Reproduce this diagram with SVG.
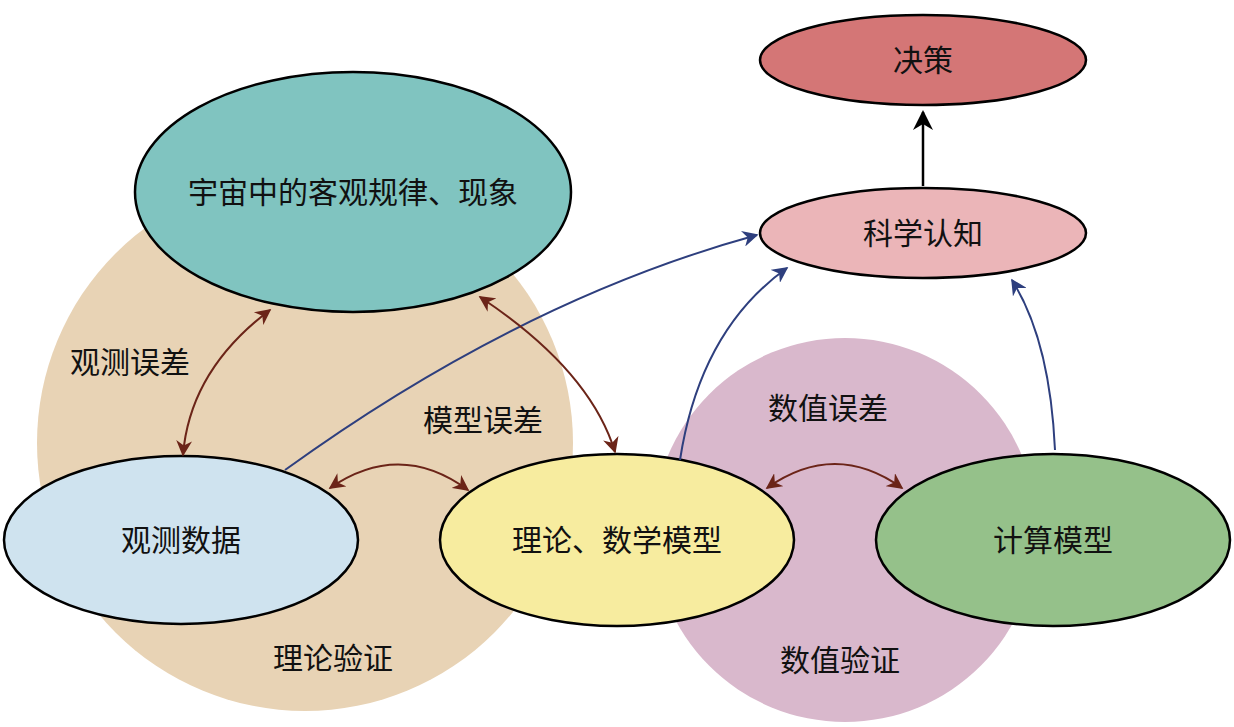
<svg xmlns="http://www.w3.org/2000/svg" width="1234" height="727" viewBox="0 0 1234 727">
<style>
text{font-family:"Liberation Serif","Noto Sans CJK SC",serif;font-size:30px;fill:#111;text-anchor:middle;dominant-baseline:central}
.n{stroke:#000;stroke-width:2.5}
.b{fill:none;stroke:#2e3f7e;stroke-width:2}
.r{fill:none;stroke:#6b2418;stroke-width:2}
</style>
<defs>
<marker id="ab" viewBox="0 0 10 10" refX="9" refY="5" markerWidth="8" markerHeight="8" orient="auto-start-reverse"><path d="M0,0 L10,5 L0,10 L3,5z" fill="#2e3f7e"/></marker>
<marker id="ar" viewBox="0 0 10 10" refX="9" refY="5" markerWidth="8" markerHeight="8" orient="auto-start-reverse"><path d="M0,0 L10,5 L0,10 L3,5z" fill="#6b2418"/></marker>
<marker id="ak" viewBox="0 0 10 10" refX="9" refY="5" markerWidth="8" markerHeight="8" orient="auto"><path d="M0,0 L10,5 L0,10 L3,5z" fill="#000"/></marker>
</defs>
<circle cx="305" cy="443" r="268" fill="#e8d3b5"/>
<circle cx="845" cy="530" r="192" fill="#d9b8cc"/>
<text x="130" y="362">观测误差</text>
<text x="483" y="420">模型误差</text>
<text x="828" y="408">数值误差</text>
<text x="333" y="658">理论验证</text>
<text x="840" y="660">数值验证</text>
<g id="n1"><ellipse class="n" cx="353" cy="192" rx="218" ry="120" fill="#80c4c0"/><text x="353" y="192">宇宙中的客观规律、现象</text></g>
<g id="n2"><ellipse class="n" cx="923" cy="60" rx="163" ry="45" fill="#d47676"/><text x="923" y="60">决策</text></g>
<g id="n3"><ellipse class="n" cx="923" cy="233" rx="163" ry="45" fill="#ebb5b8"/><text x="923" y="233">科学认知</text></g>
<g id="n4"><ellipse class="n" cx="181" cy="540" rx="177" ry="84" fill="#cfe3ef"/><text x="181" y="540">观测数据</text></g>
<g id="n5"><ellipse class="n" cx="617" cy="540" rx="177" ry="86" fill="#f7ec9f"/><text x="617" y="540">理论、数学模型</text></g>
<g id="n6"><ellipse class="n" cx="1053" cy="540" rx="177" ry="86" fill="#95c18a"/><text x="1053" y="540">计算模型</text></g>
<g id="edges">
<path d="M923,186 L923,112" stroke="#000" stroke-width="2.5" fill="none" marker-end="url(#ak)"/>
<path class="b" d="M285,470 Q520,300 757,235" marker-end="url(#ab)"/>
<path class="b" d="M680,460 Q700,330 787,268" marker-end="url(#ab)"/>
<path class="b" d="M1055,450 Q1050,340 1012,280" marker-end="url(#ab)"/>
<path class="r" d="M270,310 Q190,370 183,455" marker-start="url(#ar)" marker-end="url(#ar)"/>
<path class="r" d="M480,297 Q590,370 615,452" marker-start="url(#ar)" marker-end="url(#ar)"/>
<path class="r" d="M330,488 Q400,440 468,490" marker-start="url(#ar)" marker-end="url(#ar)"/>
<path class="r" d="M767,488 Q835,440 902,488" marker-start="url(#ar)" marker-end="url(#ar)"/>
</g>
</svg>
